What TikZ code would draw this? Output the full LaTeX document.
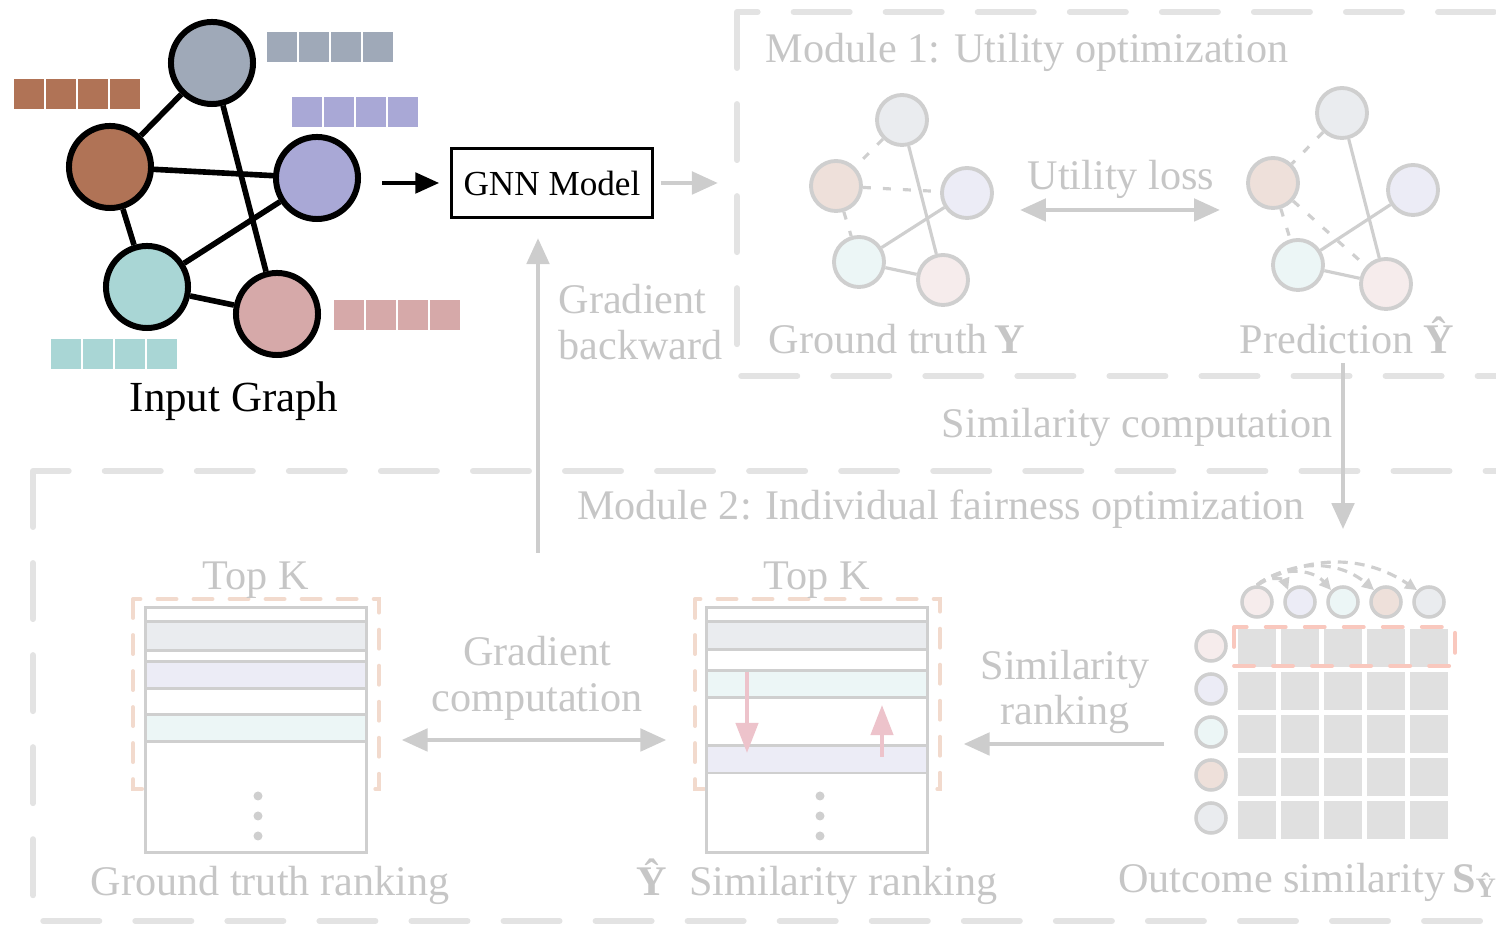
\documentclass[tikz,border=0pt]{standalone}
\usepackage{amsmath}
\usepackage{fontspec}
\setmainfont{Liberation Serif}
\usetikzlibrary{positioning, arrows.meta, backgrounds, calc}
\definecolor{cTop}{HTML}{9FA9B8}
\definecolor{cBrown}{HTML}{B07356}
\definecolor{cPurple}{HTML}{A9A8D6}
\definecolor{cTeal}{HTML}{A9D6D5}
\definecolor{cPink}{HTML}{D6A9A9}
\definecolor{txtG}{HTML}{C6C6C6}
\definecolor{lineG}{HTML}{CFCFCF}
\definecolor{arrG}{HTML}{CDCDCD}
\definecolor{boxG}{HTML}{E3E3E3}
\definecolor{cellG}{HTML}{E0E0E0}
\definecolor{cPeach}{HTML}{F2DACD}
\definecolor{cSalmon}{HTML}{F9C8BE}
\definecolor{cPinkA}{HTML}{EDC3CB}

\begin{document}
\begin{tikzpicture}[
  x=0.01cm, y=-0.01cm,
  gnode/.style={circle, draw=black, line width=1.7pt, minimum size=0.82cm, inner sep=0pt},
  fnode/.style={circle, draw=lineG, line width=1.1pt, minimum size=0.5cm, inner sep=0pt},
  mnode/.style={circle, draw=lineG, line width=1pt, minimum size=0.3cm, inner sep=0pt},
  gedge/.style={line width=1.6pt, black},
  fedge/.style={line width=0.9pt, lineG},
  fdash/.style={fedge, dash pattern=on 0.08cm off 0.12cm},
  modbox/.style={draw=boxG, line width=1.7pt, line cap=round, dash pattern=on 0.56cm off 0.36cm},
  topk/.style={draw=cPeach, line width=1.1pt, line cap=round, dash pattern=on 0.19cm off 0.17cm},
  rank/.style={draw=lineG, line width=0.85pt, fill=white, inner sep=0pt},
  row/.style={draw=lineG, line width=0.85pt},
  arr/.style={-{Triangle[length=0.26cm,width=0.22cm]}, line width=1.4pt, arrG},
  darr/.style={{Triangle[length=0.26cm,width=0.22cm]}-{Triangle[length=0.26cm,width=0.22cm]}, line width=1.4pt, arrG},
  blkarr/.style={-{Triangle[length=0.24cm,width=0.2cm]}, line width=1.4pt, black},
  pkarr/.style={-{Triangle[length=0.3cm,width=0.22cm]}, line width=1.2pt, cPinkA},
  arcarr/.style={-{Triangle[length=0.12cm,width=0.11cm]}, line width=0.9pt, lineG, dash pattern=on 0.1cm off 0.07cm},
  lbl/.style={font=\fontsize{12}{13}\selectfont, text=txtG, inner sep=0pt},
  lblk/.style={font=\fontsize{12.2}{14}\selectfont, text=black, inner sep=0pt}
]
\useasboundingbox (0,0) rectangle (1496,925);

%% ── Module boxes ──────────────────────────────────────────────────────────
\draw[modbox] (737,12) rectangle (1580,376);
\draw[modbox] (33,471) rectangle (1580,921);
\node[lbl, anchor=base west] (m1) at (765,63) {Module 1: Utility optimization};
\node[lbl, anchor=base] (m2) at (941,520) {Module 2: Individual fairness optimization};

%% ── Input graph ───────────────────────────────────────────────────────────
\foreach \x/\y/\c in {267/32/cTop, 14/79/cBrown, 292/97/cPurple, 334/300/cPink, 51/339/cTeal}
  \foreach \k in {0,...,3}
    \fill[\c] ({\x+\k*32},\y) rectangle ++(30,30);
\node[gnode, fill=cTop]    (gTop) at (212,63)  {};
\node[gnode, fill=cBrown]  (gBrn) at (110,167) {};
\node[gnode, fill=cPurple] (gPur) at (317,178) {};
\node[gnode, fill=cTeal]   (gTea) at (147,287) {};
\node[gnode, fill=cPink]   (gPnk) at (277,314) {};
\begin{scope}[on background layer]
  \draw[gedge] (gTop) -- (gBrn);
  \draw[gedge] (gTop) -- (gPnk);
  \draw[gedge] (gBrn) -- (gPur);
  \draw[gedge] (gBrn) -- (gTea);
  \draw[gedge] (gTea) -- (gPur);
  \draw[gedge] (gTea) -- (gPnk);
\end{scope}
\node[lblk, anchor=base] (ig) at (234,412) {Input Graph};

\node[draw, line width=0.85pt, minimum width=1.93cm, minimum height=0.69cm,
      font=\fontsize{10}{12}\selectfont] (gnn) at (552,183) {GNN Model};
\draw[blkarr, shorten <=0.21cm, shorten >=0.11cm] (gnn.west -| gPur.east) -- (gnn.west);
\coordinate (m1in) at (718,183);
\draw[arr, shorten <=0.07cm] (gnn.east) -- (m1in);

\coordinate (gbS) at (538,553);
\draw[arr, shorten >=0.19cm] (gbS) -- (gnn.south -| gbS);
\node[lbl, anchor=west, align=left] (gb) at (558,322) {Gradient\\backward};

%% ── Module 1: ground truth / prediction ──────────────────────────────────
\node[fnode, fill=cTop!22]    (tTop) at (902,120) {};
\node[fnode, fill=cBrown!22]  (tBrn) at (836,186) {};
\node[fnode, fill=cPurple!22] (tPur) at (967,193) {};
\node[fnode, fill=cTeal!22]   (tTea) at (859,262) {};
\node[fnode, fill=cPink!22]   (tPnk) at (943,280) {};
\node[fnode, fill=cTop!22]    (pTop) at (1342,113) {};
\node[fnode, fill=cBrown!22]  (pBrn) at (1273,183) {};
\node[fnode, fill=cPurple!22] (pPur) at (1413,190) {};
\node[fnode, fill=cTeal!22]   (pTea) at (1298,265) {};
\node[fnode, fill=cPink!22]   (pPnk) at (1386,284) {};
\begin{scope}[on background layer]
  \draw[fedge] (tTop) -- (tPnk);
  \draw[fedge] (tTea) -- (tPur);
  \draw[fedge] (tTea) -- (tPnk);
  \draw[fdash] (tTop) -- (tBrn);
  \draw[fdash] (tBrn) -- (tPur);
  \draw[fdash] (tBrn) -- (tTea);
  \draw[fedge] (pTop) -- (pPnk);
  \draw[fedge] (pTea) -- (pPur);
  \draw[fedge] (pTea) -- (pPnk);
  \draw[fdash] (pTop) -- (pBrn);
  \draw[fdash] (pBrn) -- (pTea);
  \draw[fdash] (pBrn) -- (pPnk);
\end{scope}
\node[lbl, anchor=base] (ul) at (1121,190) {Utility loss};
\draw[darr, shorten <=0.26cm, shorten >=0.26cm] (tPur.east |- 0,210) -- (pBrn.west |- 0,210);
\node[lbl, anchor=base] (tlbl) at (897,354) {Ground truth\,\textbf{Y}};
\node[lbl, anchor=base] (plbl) at (1347,354) {Prediction \textbf{Ŷ}};

%% ── Module 2: outcome similarity ─────────────────────────────────────────
\foreach \i in {0,...,4}
  \foreach \j in {0,...,4}
    \fill[cellG] ({1238+\i*43},{629+\j*43}) rectangle ++(38,38);
\draw[draw=cSalmon, line width=1.1pt, line cap=round, dash pattern=on 0.2cm off 0.19cm]
  (1234,627) rectangle (1455,666);
\foreach \c [count=\n] in {cPink,cPurple,cTeal,cBrown,cTop} {
  \node[mnode, fill=\c!22] (lc\n) at (1211,{603+\n*43}) {};
  \node[mnode, fill=\c!22] (tc\n) at ({1214+\n*43},602) {};
}
\foreach \n/\b in {2/60,3/45,4/38,5/32}
  \draw[arcarr] (tc1.north) to[bend left=\b] (tc\n.north west);
\node[lbl, anchor=base] (os) at (1307,893) {Outcome similarity\,\textbf{S}{\fontsize{8}{9}\selectfont\raisebox{-0.35ex}{\textbf{Ŷ}}}};
\draw[arr, shorten <=0.08cm, shorten >=0.56cm] (tc3 |- plbl.south) -- (tc3.north);
\node[lbl, anchor=base east] (sc) at (1333,438) {Similarity computation};

%% ── Rankings ─────────────────────────────────────────────────────────────
\draw[topk] (133,599) rectangle (379,789);
\node[rank, minimum width=2.2cm, minimum height=2.44cm] (r1) at (256,730) {};
\draw[row, fill=cTop!22]    (146,622) rectangle (366,651);
\draw[row, fill=cPurple!22] (146,662) rectangle (366,689);
\draw[row, fill=cTeal!22]   (146,715) rectangle (366,742);
\foreach \y in {796,816,836} \fill[lineG] (258,\y) circle (0.045cm);
\node[lbl, anchor=base] (k1) at (256,590) {Top K};
\node[lbl, anchor=base] (gtr) at (270,896) {Ground truth ranking};

\draw[topk] (695,599) rectangle (940,789);
\node[rank, minimum width=2.2cm, minimum height=2.44cm] (r2) at (817,730) {};
\draw[row, fill=cTop!22]    (707,622) rectangle (927,650);
\draw[row]                  (707,650) rectangle (927,671);
\draw[row, fill=cTeal!22]   (707,671) rectangle (927,698);
\draw[row, fill=cPurple!22] (707,746) rectangle (927,773);
\draw[pkarr] (747,672) -- (747,753);
\draw[pkarr] (882,757) -- (882,705);
\foreach \y in {796,816,836} \fill[lineG] (820,\y) circle (0.045cm);
\node[lbl, anchor=base] (k2) at (817,590) {Top K};
\node[lbl, anchor=base] (ysr) at (817,896) {\textbf{Ŷ}\; Similarity ranking};

\node[lbl, align=center] (gc) at (537,678) {Gradient\\computation};
\draw[darr, shorten <=0.34cm, shorten >=0.39cm] (r1.east |- 0,740) -- (r2.west |- 0,740);
\node[lbl, align=center] (sr) at (1065,692) {Similarity\\ranking};
\draw[arr, shorten <=0.3cm, shorten >=0.35cm] (lc3.west |- 0,744) -- (r2.east |- 0,744);

\end{tikzpicture}
\end{document}
